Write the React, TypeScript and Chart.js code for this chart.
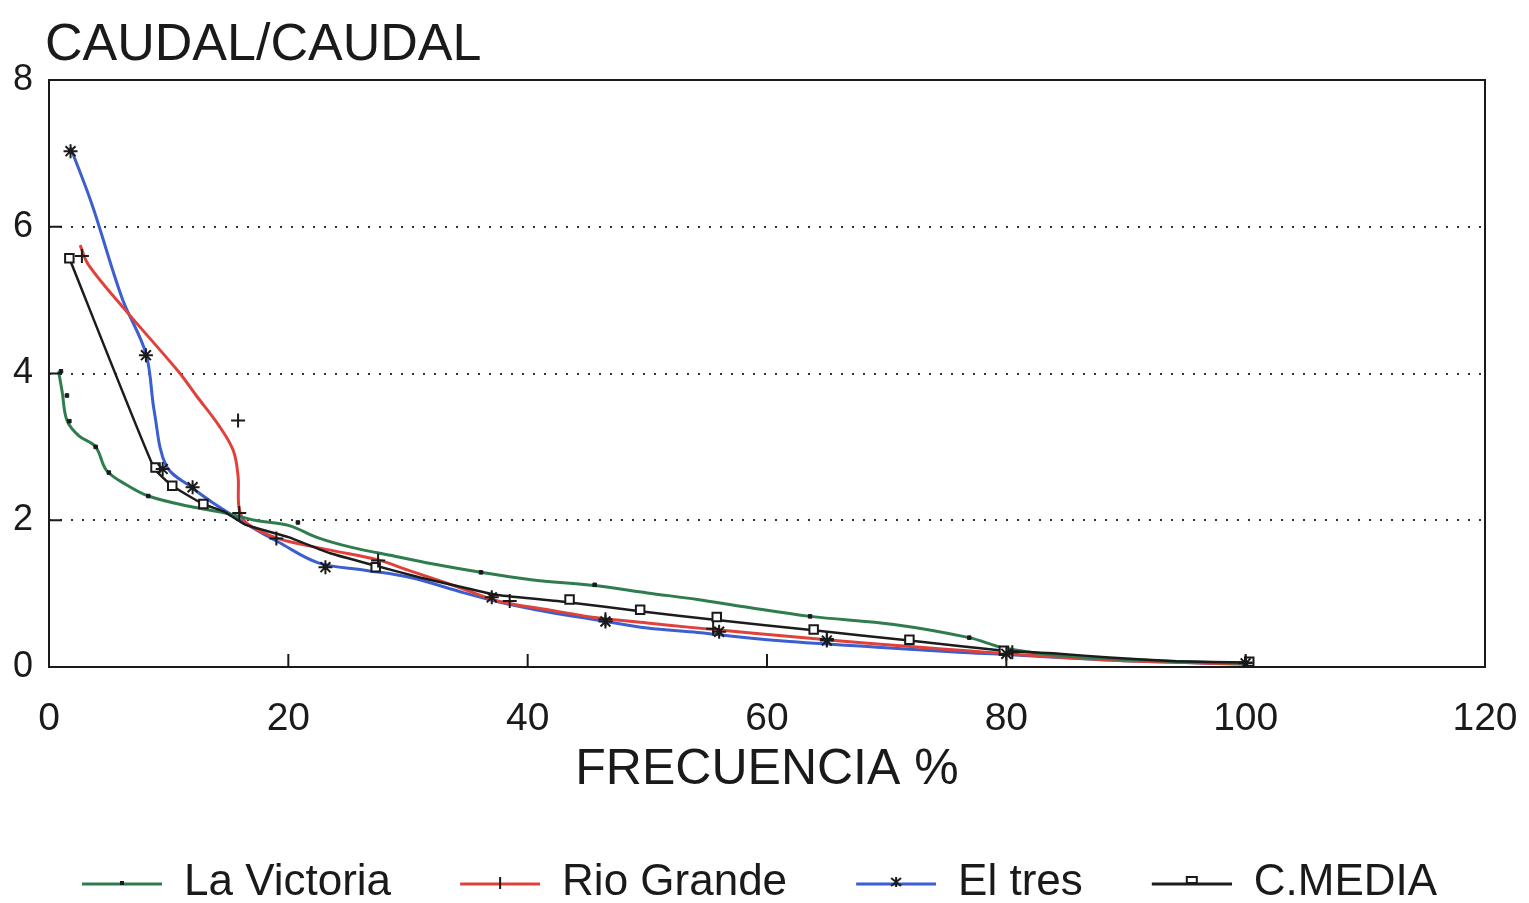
import React, { useEffect, useRef } from "react";
import { Chart, registerables } from "chart.js";

Chart.register(...registerables);

type Pt = [number, number];

// Duration curves: discharge ratio (CAUDAL/CAUDAL) against exceedance frequency (%)
const seriesNames = ["La Victoria", "Rio Grande", "El tres", "C.MEDIA"];
const seriesColors = ["#2f7d4f", "#e0413a", "#3b5fcf", "#1c1c1c"];

const laVictoriaCurve: Pt[] = [
  [0.8, 4.03], [1.1, 3.75], [1.5, 3.36], [2.5, 3.15], [3.9, 3.0], [4.8, 2.68],
  [6.4, 2.49], [8.3, 2.33], [11.7, 2.19], [14.7, 2.1], [17.2, 2.0], [20, 1.93],
  [22.5, 1.76], [25.3, 1.63], [28.9, 1.51], [31.9, 1.41], [36.1, 1.29], [40.3, 1.19],
  [45.6, 1.11], [50, 1.01], [54.2, 0.92], [58.1, 0.82], [63.6, 0.69], [70.6, 0.58],
  [76.9, 0.4], [79.8, 0.26], [85, 0.15], [92, 0.09], [100, 0.05],
];
const laVictoriaMarks: Pt[] = [
  [1.0, 4.03], [1.5, 3.7], [1.7, 3.35], [3.9, 3.0], [5.0, 2.65], [8.3, 2.33],
  [20.8, 1.97], [36.1, 1.29], [45.6, 1.12], [63.6, 0.69], [76.9, 0.4], [100, 0.05],
];

const rioGrandeCurve: Pt[] = [
  [2.6, 5.75], [3.3, 5.48], [6.4, 4.86], [10.8, 4.03], [12.3, 3.7], [14.2, 3.29],
  [15.4, 2.95], [15.8, 2.6], [15.9, 2.15], [16.6, 1.95], [19.2, 1.75], [23.3, 1.6],
  [27.5, 1.46], [30, 1.32], [34, 1.1], [37.5, 0.9], [41.7, 0.78], [45.8, 0.67],
  [50, 0.6], [53.6, 0.54], [58.9, 0.46], [66.4, 0.35], [72, 0.28], [76.7, 0.22],
  [80, 0.18], [88, 0.1], [95, 0.06], [100, 0.04],
];
const rioGrandeMarks: Pt[] = [
  [2.75, 5.6], [15.8, 3.36], [15.9, 2.1], [19, 1.75], [27.5, 1.45], [38.5, 0.9],
  [46.5, 0.65], [55.5, 0.52], [65, 0.38], [80.5, 0.2], [100, 0.06],
];

const elTresCurve: Pt[] = [
  [1.8, 7.08], [3.6, 6.3], [6.1, 5.03], [8.1, 4.27], [8.8, 3.48], [9.8, 2.74],
  [11.9, 2.45], [13.6, 2.25], [15.5, 2.05], [17, 1.9], [19.2, 1.7], [22.5, 1.42],
  [26.4, 1.32], [30.2, 1.22], [34.7, 1.01], [37.5, 0.89], [41.7, 0.75], [45.8, 0.64],
  [50, 0.53], [54.2, 0.47], [60.8, 0.36], [69.2, 0.27], [76, 0.2], [80, 0.17],
  [88, 0.1], [95, 0.06], [100, 0.04],
];
const elTresMarks: Pt[] = [
  [1.8, 7.03], [8.1, 4.25], [9.5, 2.7], [12, 2.45], [23.1, 1.36], [37, 0.95],
  [46.5, 0.62], [56, 0.48], [65, 0.36], [80, 0.18], [100, 0.05],
];

const cMediaCurve: Pt[] = [
  [1.7, 5.57], [8.75, 2.72], [10.3, 2.47], [12.9, 2.22], [14.6, 2.12], [16.4, 1.94],
  [20, 1.77], [23.5, 1.55], [27.3, 1.38], [31, 1.22], [35, 1.07], [37.5, 0.98],
  [43.5, 0.88], [49.4, 0.76], [55.8, 0.64], [63.9, 0.5], [71.9, 0.36], [79.8, 0.22],
  [84.4, 0.18], [88.6, 0.13], [94.2, 0.08], [100.3, 0.06],
];
const cMediaMarks: Pt[] = [
  [1.7, 5.57], [8.9, 2.72], [10.3, 2.47], [12.9, 2.22], [27.3, 1.36], [43.5, 0.92],
  [49.4, 0.78], [55.8, 0.68], [63.9, 0.51], [71.9, 0.37], [79.8, 0.22], [100.3, 0.07],
];

const xTicks = [0, 20, 40, 60, 80, 100, 120];
const yTicks = [0, 2, 4, 6, 8];

const FONT = '"Liberation Sans", Arial, sans-serif';
const INK = "#1a1a1a";

const toXY = (pts: Pt[]) => pts.map(([x, y]) => ({ x, y }));

// Small black glyph drawn on each legend line
function drawGlyph(ctx: CanvasRenderingContext2D, kind: number, x: number, y: number) {
  ctx.save();
  ctx.strokeStyle = INK;
  ctx.fillStyle = INK;
  ctx.lineWidth = 2;
  ctx.beginPath();
  if (kind === 0) {
    ctx.fillRect(x - 2, y - 3, 4, 4);
  } else if (kind === 1) {
    ctx.moveTo(x, y - 7);
    ctx.lineTo(x, y + 5);
    ctx.stroke();
  } else if (kind === 2) {
    ctx.moveTo(x, y - 7);
    ctx.lineTo(x, y + 3);
    ctx.moveTo(x - 5, y - 6);
    ctx.lineTo(x + 5, y + 2);
    ctx.moveTo(x + 5, y - 6);
    ctx.lineTo(x - 5, y + 2);
    ctx.stroke();
  } else {
    ctx.fillStyle = "#fff";
    ctx.fillRect(x - 5, y - 7, 10, 6);
    ctx.strokeRect(x - 5, y - 7, 10, 6);
  }
  ctx.restore();
}

function makeLegendIcon(color: string, kind: number): HTMLCanvasElement {
  const c = document.createElement("canvas");
  c.width = 139;
  c.height = 24;
  const ctx = c.getContext("2d")!;
  ctx.strokeStyle = color;
  ctx.lineWidth = 3;
  ctx.beginPath();
  ctx.moveTo(59, 13);
  ctx.lineTo(139, 13);
  ctx.stroke();
  drawGlyph(ctx, kind, 99, 13);
  return c;
}

// Plot frame plus inward tick marks on both axes
const framePlugin = {
  id: "plotFrame",
  afterDatasetsDraw(chart: any) {
    const { ctx, chartArea, scales } = chart;
    const { left, right, top, bottom } = chartArea;
    ctx.save();
    ctx.strokeStyle = INK;
    ctx.lineWidth = 2;
    ctx.strokeRect(left, top, right - left, bottom - top);
    ctx.beginPath();
    xTicks.forEach((v) => {
      const px = scales.x.getPixelForValue(v);
      ctx.moveTo(px, bottom);
      ctx.lineTo(px, bottom - 13);
    });
    yTicks.forEach((v) => {
      const py = scales.y.getPixelForValue(v);
      ctx.moveTo(left, py);
      ctx.lineTo(left + 13, py);
    });
    ctx.stroke();
    ctx.restore();
  },
};

// Heading for the vertical axis, set above the top-left corner of the plot
const headingPlugin = {
  id: "axisHeading",
  afterDraw(chart: any) {
    const { ctx, chartArea } = chart;
    ctx.save();
    ctx.fillStyle = INK;
    ctx.font = `52px ${FONT}`;
    ctx.textAlign = "left";
    ctx.textBaseline = "alphabetic";
    ctx.fillText("CAUDAL/CAUDAL", chartArea.left - 4, 60);
    ctx.restore();
  },
};

export default function App() {
  const canvasRef = useRef<HTMLCanvasElement | null>(null);

  useEffect(() => {
    if (!canvasRef.current) return;
    const curves = [laVictoriaCurve, rioGrandeCurve, elTresCurve, cMediaCurve];
    const marks = [laVictoriaMarks, rioGrandeMarks, elTresMarks, cMediaMarks];
    const icons = seriesColors.map((c, i) => makeLegendIcon(c, i));

    const markStyles: any[] = [
      { pointStyle: "rect", pointRadius: 2.5, backgroundColor: INK, borderColor: INK, borderWidth: 1 },
      { pointStyle: "cross", pointRadius: 7, backgroundColor: INK, borderColor: INK, borderWidth: 2 },
      { pointStyle: "star", pointRadius: 7, backgroundColor: INK, borderColor: INK, borderWidth: 2 },
      { pointStyle: "rect", pointRadius: 6, backgroundColor: "#fff", borderColor: INK, borderWidth: 2 },
    ];

    const lineSets = curves.map((pts, i) => ({
      label: seriesNames[i],
      data: toXY(pts),
      showLine: true,
      borderColor: seriesColors[i],
      backgroundColor: seriesColors[i],
      borderWidth: i === 3 ? 2.5 : 3,
      tension: i === 3 ? 0.15 : 0.35,
      pointRadius: 0,
      order: i === 3 ? 1 : 2,
    }));
    const markSets = marks.map((pts, i) => ({
      label: seriesNames[i] + " (datos)",
      data: toXY(pts),
      showLine: false,
      ...markStyles[i],
      order: 0,
    }));

    const chart = new Chart(canvasRef.current, {
      type: "scatter",
      data: { datasets: [...lineSets, ...markSets] as any },
      options: {
        animation: false,
        responsive: true,
        maintainAspectRatio: false,
        events: [],
        layout: { padding: { left: 13, top: 80, right: 44, bottom: -12 } },
        scales: {
          x: {
            type: "linear",
            min: 0,
            max: 120,
            afterBuildTicks: (axis: any) => {
              axis.ticks = xTicks.map((v) => ({ value: v }));
            },
            afterFit: (axis: any) => {
              axis.height = 184;
              axis.paddingLeft = 0;
              axis.paddingRight = 33;
            },
            grid: { display: false, drawTicks: false },
            border: { display: false },
            ticks: { padding: 29, color: INK, maxRotation: 0, font: { family: FONT, size: 39 } },
            title: {
              display: true,
              text: "FRECUENCIA %",
              color: INK,
              font: { family: FONT, size: 50 },
              padding: { top: 0, bottom: 51 },
            },
          },
          y: {
            type: "linear",
            min: 0,
            max: 8,
            afterBuildTicks: (axis: any) => {
              axis.ticks = yTicks.map((v) => ({ value: v }));
            },
            afterFit: (axis: any) => {
              axis.width = 36;
            },
            grid: {
              drawTicks: false,
              lineWidth: 2,
              color: (c: any) => (c.tick && (c.tick.value === 0 || c.tick.value === 8) ? "rgba(0,0,0,0)" : "#333"),
            },
            border: { display: false, dash: [2, 9] },
            ticks: { padding: 16, color: INK, font: { family: FONT, size: 36 } },
          },
        },
        plugins: {
          tooltip: { enabled: false },
          legend: {
            position: "bottom",
            align: "start",
            labels: {
              usePointStyle: true,
              pointStyleWidth: 139,
              padding: 10,
              color: INK,
              font: { family: FONT, size: 44 },
              generateLabels: () =>
                seriesNames.map((name, i) => ({
                  text: name,
                  pointStyle: icons[i] as any,
                  fillStyle: "rgba(0,0,0,0)",
                  strokeStyle: "rgba(0,0,0,0)",
                  lineWidth: 0,
                  hidden: false,
                  datasetIndex: i,
                  fontColor: INK,
                })),
            },
          },
        },
      },
      plugins: [framePlugin, headingPlugin],
    });

    return () => chart.destroy();
  }, []);

  return (
    <div style={{ position: "fixed", left: 0, top: 0, width: "100vw", height: "100vh", background: "#fff" }}>
      <canvas ref={canvasRef} />
    </div>
  );
}
